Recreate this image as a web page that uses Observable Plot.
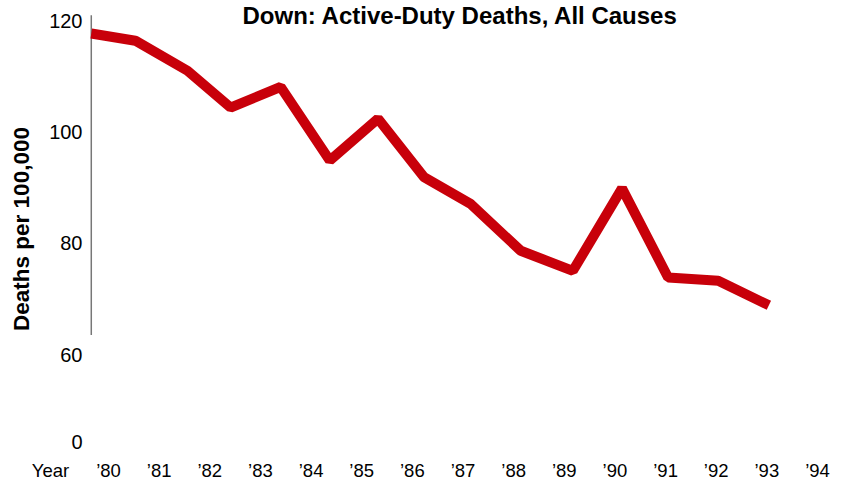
<!DOCTYPE html>
<html><head><meta charset="utf-8">
<script src="https://cdn.jsdelivr.net/npm/d3@7"></script>
<script src="https://cdn.jsdelivr.net/npm/@observablehq/plot@0.6"></script>
<style>
html,body{margin:0;padding:0;background:#fff} svg{display:block}
</style>
</head><body><div id="chart"></div>
<script>
const title = "Down: Active-Duty Deaths, All Causes";
const yLabel = "Deaths per 100,000";
const xLabel = "Year";
// x positions of the line's vertices in year units
const years = [1979.66, 1980.53, 1981.56, 1982.41, 1983.40, 1984.37, 1985.32, 1986.23, 1987.15, 1988.14, 1989.17, 1990.14, 1991.05, 1992.04, 1993.04];
const deaths = [117.8, 116.5, 111.1, 104.5, 108.2, 95.0, 102.5, 92.0, 87.2, 78.8, 75.2, 90.0, 74.0, 73.4, 69.0];
const xTicks = [1980, 1981, 1982, 1983, 1984, 1985, 1986, 1987, 1988, 1989, 1990, 1991, 1992, 1993, 1994];
const yTicks = [60, 80, 100, 120];
const yBreakLabel = "0";
const axisExtent = [63.6, 121];

const data = years.map((year, i) => ({year, value: deaths[i]}));
const fmtYear = d => "\u2019" + String(d).slice(2);

const chart = Plot.plot({
  width: 844,
  height: 481,
  marginLeft: 91,
  marginRight: 27,
  marginTop: 15,
  marginBottom: 39,
  style: {fontFamily: "'Liberation Sans', Arial, Helvetica, sans-serif", color: "#000", background: "#fff"},
  x: {domain: [1980, 1994], range: [108, 817], axis: null},
  y: {domain: [60, 120], range: [355, 20.7], axis: null},
  marks: [
    Plot.text(xTicks, {x: d => d, text: fmtYear, frameAnchor: "bottom", lineAnchor: "middle", dy: 29, fontSize: 18.5}),
    Plot.text(yTicks, {y: d => d, text: d => String(d), frameAnchor: "left", textAnchor: "end", lineAnchor: "middle", dx: -9, fontSize: 20}),
    Plot.text([yBreakLabel], {frameAnchor: "bottom-left", textAnchor: "end", lineAnchor: "middle", dx: -9, fontSize: 20}),
    Plot.text([xLabel], {frameAnchor: "bottom-left", textAnchor: "middle", lineAnchor: "middle", dx: -41, dy: 29, fontSize: 18.5}),
    Plot.text([yLabel], {frameAnchor: "left", rotate: -90, textAnchor: "middle", lineAnchor: "middle", dx: -69.5, fontSize: 22.5, fontWeight: "bold"}),
    Plot.text([title], {frameAnchor: "top-left", textAnchor: "start", lineAnchor: "middle", dx: 151, dy: 1, fontSize: 24, fontWeight: "bold"}),
    Plot.ruleX([years[0]], {y1: axisExtent[0], y2: axisExtent[1], stroke: "#777", strokeWidth: 1.5}),
    Plot.line(data, {x: "year", y: "value", stroke: "#c8000a", strokeWidth: 10, strokeLinejoin: "miter", strokeLinecap: "butt"})
  ]
});
document.getElementById("chart").appendChild(chart);
</script>
</body></html>
